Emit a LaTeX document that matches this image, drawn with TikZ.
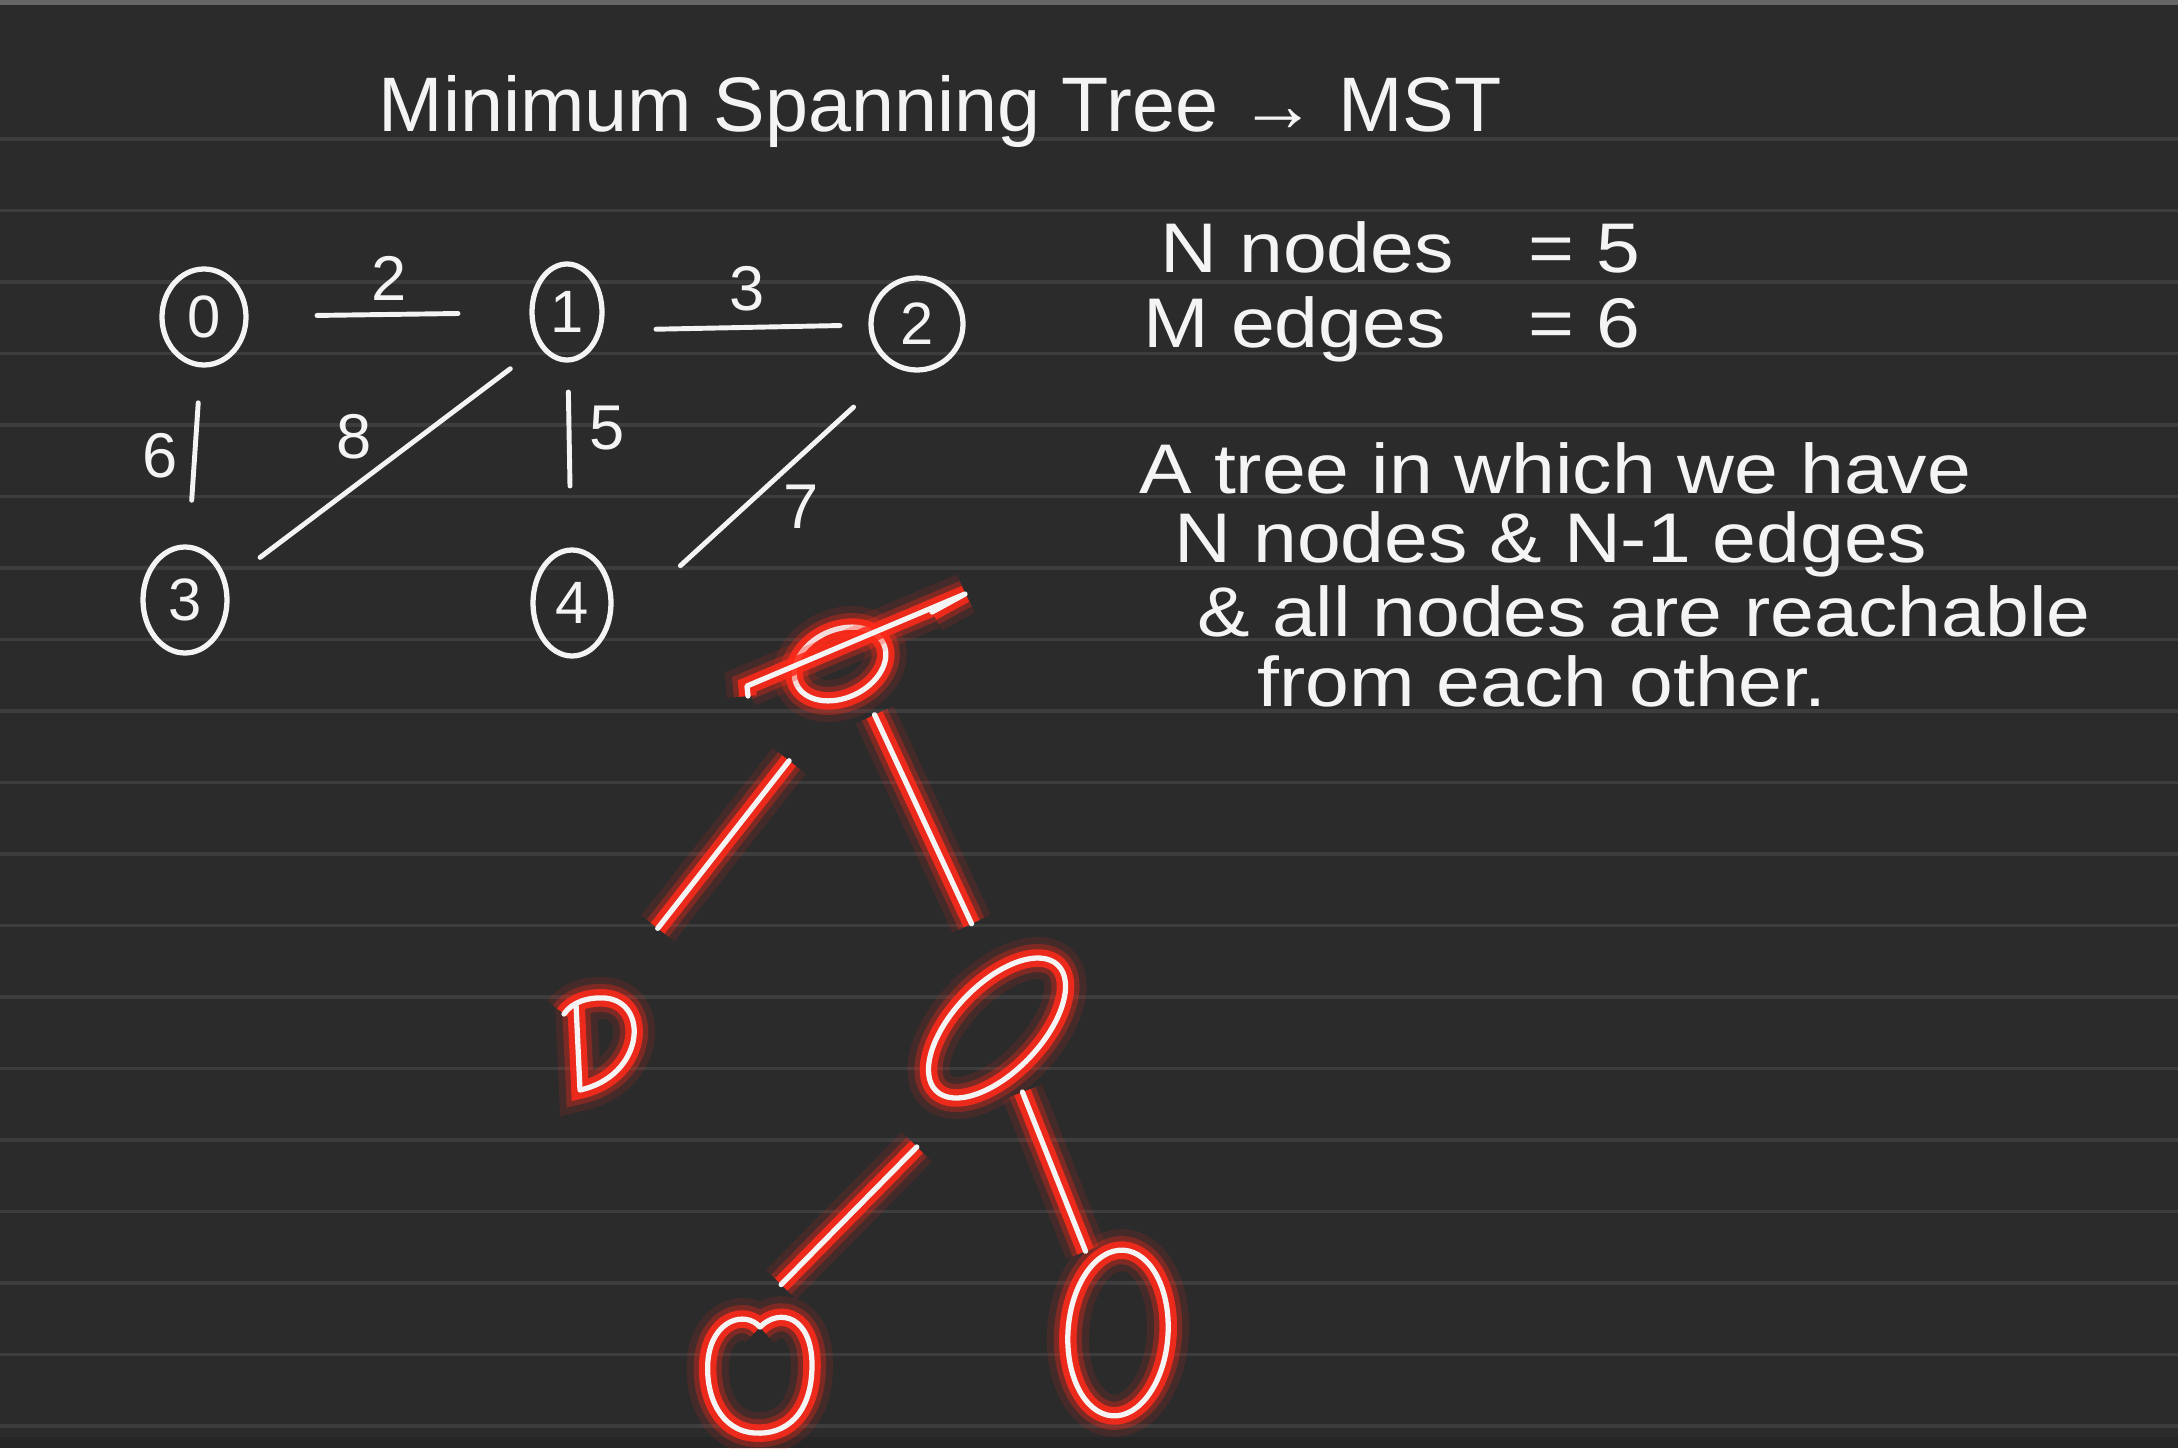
\documentclass[tikz,border=0pt]{standalone}
\usepackage{fontspec}
\setmainfont{Liberation Sans}
\newfontfamily\handfont[FakeStretch=1.12]{Liberation Sans}
\usetikzlibrary{shapes.geometric}

\definecolor{board}{HTML}{2B2B2B}
\definecolor{rule}{HTML}{3D3D3D}
\definecolor{chalk}{HTML}{F4F4F4}
\definecolor{glowred}{HTML}{FF2A1A}

\tikzset{
  vertex/.style={draw=chalk, ellipse, line width=1.5pt, inner sep=0pt, minimum width=8.4mm, minimum height=9.6mm, text=chalk, font=\fontsize{17}{17}\selectfont},
  arc/.style={draw=chalk, line width=1.4pt, line cap=round},
  weight/.style={text=chalk, inner sep=0pt, font=\fontsize{18}{18}\selectfont},
  note/.style={text=chalk, anchor=base west, inner sep=0pt, font=\handfont\fontsize{20}{20}\selectfont},
  glow/.style={draw=chalk, line width=1.5pt, line cap=round, line join=round,
    preaction={draw=glowred, line width=12pt, opacity=.12},
    preaction={draw=glowred, line width=8pt, opacity=.3},
    preaction={draw=glowred, line width=5pt, opacity=.85}},
  tnode/.style={glow, ellipse, inner sep=0pt}
}

\begin{document}
\begin{tikzpicture}[x=0.1mm, y=-0.1mm]
\useasboundingbox (0,0) rectangle (2178,1448);
% board
\fill[board] (0,0) rectangle (2178,1448);
\fill[black!60] (0,0) rectangle (2178,5);
\fill[black!85] (0,1437) rectangle (2178,1448);
\foreach \k in {0,...,18}{
  \draw[rule, line width=0.35mm] (0,{139+71.5*\k}) -- (2178,{139+71.5*\k});
}

% title
\node[note, font=\fontsize{22}{22}\selectfont] (title) at (378,132) {Minimum Spanning Tree → MST};

% graph
\node[vertex] (n0) at (204,317) {0};
\node[vertex, minimum width=7mm] (n1) at (567,312) {1};
\node[vertex, minimum width=9.2mm, minimum height=9.2mm] (n2) at (917,324) {2};
\node[vertex, minimum height=10.6mm] (n3) at (185,600) {3};
\node[vertex, minimum width=7.8mm, minimum height=10.6mm] (n4) at (572,603) {4};

\draw[arc, shorten <=11.3mm, shorten >=10.9mm] (n0.center) -- (n1.center);
\draw[arc, shorten <=8.9mm, shorten >=7.7mm] ([yshift=-1.9mm]n1.center) -- (n2.center);
\draw[arc, shorten <=8.6mm, shorten >=10mm] (n0.center) -- (n3.center);
\draw[arc, shorten <=7.1mm, shorten >=9.4mm] ([yshift=-1.4mm]n1.center) -- ([yshift=-1.4mm]n3.center);
\draw[arc, shorten <=8mm, shorten >=11.7mm] (n1.center) -- (n4.center);
\draw[arc, shorten <=8.6mm, shorten >=14.7mm] ([yshift=-2.5mm]n2.center) -- ([yshift=-6.2mm]n4.center);

\node[weight] (w01) at (389,278) {2};
\node[weight] (w12) at (747,289) {3};
\node[weight] (w03) at (160,456) {6};
\node[weight] (w13) at (354,437) {8};
\node[weight] (w14) at (607,428) {5};
\node[weight] (w24) at (801,507) {7};

% notes
\node[note] (nn) at (1160,272) {N nodes};
\node[note] (nv) at (1528,272) {= 5};
\node[note] (me) at (1143,347) {M edges};
\node[note] (mv) at (1528,347) {= 6};
\node[note] (def1) at (1139,493) {A tree in which we have};
\node[note] (def2) at (1174,562) {N nodes \& N-1 edges};
\node[note] (def3) at (1197,636) {\& all nodes are reachable};
\node[note] (def4) at (1257,706) {from each other.};

% glowing tree
\node[tnode, rotate=25, minimum width=9.6mm, minimum height=6.8mm] (root) at (840,664) {};
\draw[glow, shift={(root)}] (-92,32) -- (-93,22) -- (125,-70) -- (92,-52);
\coordinate (dnode) at (600,1044);
\draw[glow, shift={(dnode)}] (-36,-30) .. controls (-28,-42) and (-12,-47) .. (5,-46)
  .. controls (50,-42) and (44,32) .. (-20,46) -- (-24,-40);
\node[tnode, rotate=46, minimum width=17.5mm, minimum height=8.8mm] (rc) at (997,1028) {};
\node[tnode, rotate=-4, minimum width=10mm, minimum height=16.6mm] (rg) at (1118,1333) {};
\coordinate (lg) at (760,1375);
\draw[glow, shift={(lg)}] (0,-48) .. controls (20,-68) and (52,-58) .. (52,-10)
  .. controls (52,40) and (25,60) .. (-5,58) .. controls (-40,56) and (-55,20) .. (-52,-15)
  .. controls (-48,-55) and (-15,-65) .. (0,-48);

\draw[glow, shorten <=12.3mm, shorten >=14.7mm] ([xshift=2.5mm]root.center) -- ([xshift=-3.3mm]dnode);
\draw[glow, shorten <=5.6mm, shorten >=11.5mm] ([xshift=1.1mm]root.center) -- ([xshift=2.3mm]rc.center);
\draw[glow, shorten <=6.9mm, shorten >=8.8mm] (rc.center) -- (rg.center);
\draw[glow, shorten <=16.7mm, shorten >=12.7mm] ([xshift=3.7mm]rc.center) -- ([xshift=-6.8mm]lg);
\end{tikzpicture}
\end{document}
